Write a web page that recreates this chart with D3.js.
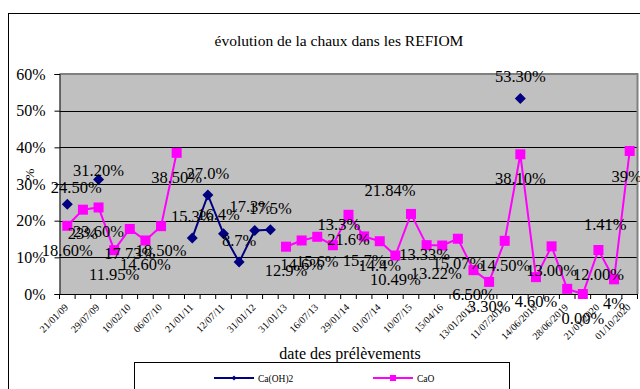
<!DOCTYPE html>
<html>
<head>
<meta charset="utf-8">
<script src="https://cdn.jsdelivr.net/npm/d3@7"></script>
<style>
  html, body { margin: 0; padding: 0; background: #fff; }
  svg { display: block; }
  text { font-family: "Liberation Serif", "Times New Roman", serif; fill: #000; }
</style>
</head>
<body>
<svg id="chart" width="640" height="389"></svg>
<script>
// Sampling dates (category axis)
const dates = [
  "21/01/09", "22/04/09", "29/07/09", "04/11/09", "10/02/10", "15/04/10",
  "06/07/10", "12/10/10", "21/01/11", "14/04/11", "12/07/11", "18/10/11",
  "31/01/12", "10/07/12", "31/01/13", "15/04/13", "16/07/13", "22/10/13",
  "29/01/14", "08/04/14", "01/07/14", "14/01/15", "10/07/15", "13/01/16",
  "15/04/16", "12/07/16", "13/01/2017", "11/04/2017", "11/07/2017", "16/01/2018",
  "14/06/2018", "12/12/2018", "28/06/2019", "15/10/2019", "21/01/2020", "20/05/2020",
  "01/10/2020"
];

// Ca(OH)2 content, % (null = not measured)
const caOH2 = [
  24.5, null, 31.2, null, null, null, null, null, 15.3, 27.0, 16.4, 8.7,
  17.3, 17.5, null, null, null, null, null, null, null, null, null, null,
  null, null, null, null, null, 53.3, null, null, null, null, null, null,
  null
];
// number of decimals shown in each Ca(OH)2 label
const caOH2Decimals = [
  2, 0, 2, 0, 0, 0, 0, 0, 1, 1, 1, 1,
  1, 1, 0, 0, 0, 0, 0, 0, 0, 0, 0, 0,
  0, 0, 0, 0, 0, 2, 0, 0, 0, 0, 0, 0,
  0
];

// CaO content, % (null = not measured)
const caO = [
  18.6, 23, 23.6, 11.95, 17.73, 14.6, 18.5, 38.5, null, null, null, null,
  null, null, 12.9, 14.6, 15.6, 13.3, 21.6, 15.7, 14.4, 10.49, 21.84, 13.33,
  13.22, 15.07, 6.5, 3.3, 14.5, 38.1, 4.6, 13.0, 1.41, 0.00, 12.00, 4,
  39
];
const caODecimals = [
  2, 0, 2, 2, 2, 2, 2, 2, 0, 0, 0, 0,
  0, 0, 1, 1, 1, 1, 1, 1, 1, 2, 2, 2,
  2, 2, 2, 2, 2, 2, 2, 2, 2, 2, 2, 0,
  0
];

const yTicks = [0, 10, 20, 30, 40, 50, 60];

const title = "évolution de la chaux dans les REFIOM";
const xTitle = "date des prélèvements";
const yTitle = "%";
const seriesNames = ["Ca(OH)2", "CaO"];

// ---- layout ----
const serif = "'Liberation Serif', 'Times New Roman', serif";
const svg = d3.select("#chart");
const plot = { left: 59.5, right: 637.5, top: 74, bottom: 294 };
const colOH = "#000080", colO = "#ff00ff";

// label placement relative to each point (default: above for Ca(OH)2, below for CaO)
const ohShift = { 0: [9, -17], 2: [0, -9], 10: [-5, -20], 12: [-4, -24] };
const oShift = { 17: [6, -21], 22: [-21, -24], 23: [-2, 9], 24: [-6, 28], 32: [38, -65], 36: [-3, 25] };

const x = d3.scaleBand().domain(d3.range(dates.length)).range([plot.left, plot.right]);
const cx = i => x(i) + x.bandwidth() / 2;
const y = d3.scaleLinear().domain([0, 60]).range([plot.bottom, plot.top]);

// outer chart frame
svg.append("rect").attr("x", 8.5).attr("y", 13.5).attr("width", 700).attr("height", 500)
  .attr("fill", "#fff").attr("stroke", "#000").attr("stroke-width", 1);

// plot background
svg.append("rect").attr("x", plot.left).attr("y", plot.top)
  .attr("width", plot.right - plot.left).attr("height", plot.bottom - plot.top)
  .attr("fill", "#c0c0c0");

// horizontal gridlines
svg.append("g").selectAll("line").data(yTicks.filter(t => t > 0 && t < 60)).join("line")
  .attr("x1", plot.left).attr("x2", plot.right)
  .attr("y1", d => Math.round(y(d)) + 0.5).attr("y2", d => Math.round(y(d)) + 0.5)
  .attr("stroke", "#000").attr("stroke-width", 1);

// plot frame (top & right)
svg.append("path")
  .attr("d", `M${plot.left},${plot.top} H${plot.right} V${plot.bottom}`)
  .attr("fill", "none").attr("stroke", "#808080").attr("stroke-width", 2);

// y axis
const yAxis = svg.append("g").attr("transform", `translate(${plot.left},0)`)
  .call(d3.axisLeft(y).tickValues(yTicks).tickSize(5).tickPadding(9).tickFormat(d => d + "%"));
yAxis.attr("font-family", null).attr("font-size", null);
yAxis.select(".domain").attr("stroke", "#000");
yAxis.selectAll(".tick line").attr("stroke", "#000");
yAxis.selectAll("text").style("font-family", serif).style("font-size", "16px").attr("fill", "#000");

// x axis line and boundary ticks
const xAxis = svg.append("g").attr("transform", `translate(0,${plot.bottom})`)
  .call(d3.axisBottom(x).tickSize(0).tickFormat(() => ""));
xAxis.select(".domain").attr("stroke", "#000").attr("d", `M${plot.left},0.5H${plot.right}`);
svg.append("g").selectAll("line").data(d3.range(dates.length + 1)).join("line")
  .attr("x1", i => (i < dates.length ? x(i) : plot.right))
  .attr("x2", i => (i < dates.length ? x(i) : plot.right))
  .attr("y1", plot.bottom).attr("y2", plot.bottom + 5)
  .attr("stroke", "#000").attr("stroke-width", 1);

// x tick labels (every second date fits)
svg.append("g").selectAll("text").data(d3.range(0, dates.length, 2)).join("text")
  .attr("transform", i => `translate(${cx(i) + 1.5},${plot.bottom + 14}) rotate(-45)`)
  .attr("text-anchor", "end")
  .style("font-family", serif)
  .style("font-size", "10px")
  .text(i => dates[i]);

// titles
svg.append("text").attr("x", 339).attr("y", 46).attr("text-anchor", "middle")
  .style("font-family", serif).style("font-size", "15.5px").text(title);
svg.append("text").attr("x", 350).attr("y", 359).attr("text-anchor", "middle")
  .style("font-family", serif).style("font-size", "16px").text(xTitle);
svg.append("text").attr("transform", "translate(34,174) rotate(-90)").attr("text-anchor", "middle")
  .style("font-family", serif).style("font-size", "13px").text(yTitle);

// series lines
const line = d3.line().defined(d => d.v != null).x(d => cx(d.i)).y(d => y(d.v));
const ohData = caOH2.map((v, i) => ({ i, v }));
const oData = caO.map((v, i) => ({ i, v }));

svg.append("path").datum(oData).attr("d", line)
  .attr("fill", "none").attr("stroke", colO).attr("stroke-width", 2);
svg.append("path").datum(ohData).attr("d", line)
  .attr("fill", "none").attr("stroke", colOH).attr("stroke-width", 2);

// markers
svg.append("g").selectAll("rect").data(oData.filter(d => d.v != null)).join("rect")
  .attr("x", d => cx(d.i) - 5).attr("y", d => y(d.v) - 5)
  .attr("width", 10).attr("height", 10).attr("fill", colO);
svg.append("g").selectAll("path").data(ohData.filter(d => d.v != null)).join("path")
  .attr("transform", d => `translate(${cx(d.i)},${y(d.v)})`)
  .attr("d", "M0,-5.5L5.5,0L0,5.5L-5.5,0Z").attr("fill", colOH);

// data labels
const fmt = (v, dec) => v.toFixed(dec) + "%";
svg.append("g").selectAll("text").data(ohData.filter(d => d.v != null)).join("text")
  .attr("x", d => cx(d.i) + (ohShift[d.i] ? ohShift[d.i][0] : 0))
  .attr("y", d => y(d.v) + (ohShift[d.i] ? ohShift[d.i][1] : -22))
  .attr("dy", "0.35em").attr("text-anchor", "middle")
  .style("font-family", serif).style("font-size", "16.5px")
  .text(d => fmt(d.v, caOH2Decimals[d.i]));
svg.append("g").selectAll("text").data(oData.filter(d => d.v != null)).join("text")
  .attr("x", d => cx(d.i) + (oShift[d.i] ? oShift[d.i][0] : 0))
  .attr("y", d => y(d.v) + (oShift[d.i] ? oShift[d.i][1] : 24))
  .attr("dy", "0.35em").attr("text-anchor", "middle")
  .style("font-family", serif).style("font-size", "16.5px")
  .text(d => fmt(d.v, caODecimals[d.i]));

// legend
const lg = svg.append("g");
lg.append("rect").attr("x", 134.5).attr("y", 362.5).attr("width", 375).attr("height", 60)
  .attr("fill", "#fff").attr("stroke", "#000");
const items = [
  { name: seriesNames[0], color: colOH, x0: 214, shape: "diamond" },
  { name: seriesNames[1], color: colO, x0: 373, shape: "square" }
];
items.forEach(it => {
  lg.append("line").attr("x1", it.x0).attr("x2", it.x0 + 40).attr("y1", 378).attr("y2", 378)
    .attr("stroke", it.color).attr("stroke-width", 2);
  if (it.shape === "diamond") {
    lg.append("path").attr("transform", `translate(${it.x0 + 20},378)`)
      .attr("d", "M0,-2.5L2.5,0L0,2.5L-2.5,0Z").attr("fill", it.color);
  } else {
    lg.append("rect").attr("x", it.x0 + 17).attr("y", 375).attr("width", 6).attr("height", 6)
      .attr("fill", it.color);
  }
  lg.append("text").attr("x", it.x0 + 44).attr("y", 381.5)
    .style("font-family", serif).style("font-size", "9.5px").text(it.name);
});
</script>
</body>
</html>
